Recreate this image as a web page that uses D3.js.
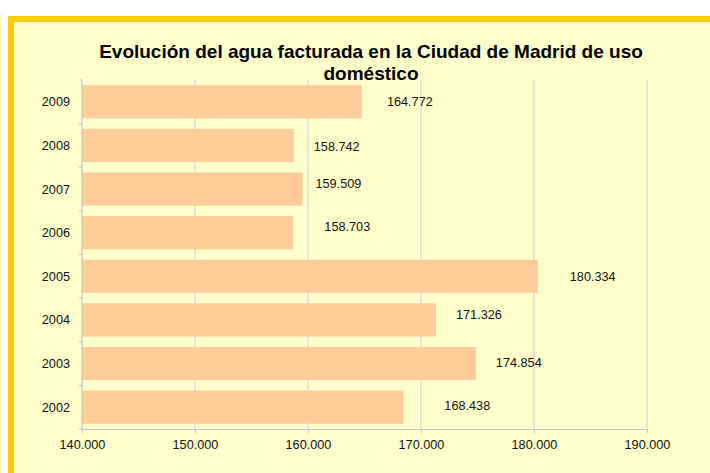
<!DOCTYPE html>
<html>
<head>
<meta charset="utf-8">
<script src="https://cdn.jsdelivr.net/npm/d3@7"></script>
<style>
  body { margin: 0; background: #fff; }
  svg { display: block; font-family: Arial, "Liberation Sans", sans-serif; }
</style>
</head>
<body>
<svg id="chart"></svg>
<script>
// data
const years = ["2009", "2008", "2007", "2006", "2005", "2004", "2003", "2002"];
const volumes = [164772, 158742, 159509, 158703, 180334, 171326, 174854, 168438];
const xTicks = [140000, 150000, 160000, 170000, 180000, 190000];
const titleLines = ["Evolución del agua facturada en la Ciudad de Madrid de uso", "doméstico"];

// labels were nudged by hand in the original
const labelDx = [25, 20, 13, 31, 32, 20, 20, 41];
const labelDy = [0, 1, -6, -6, 0, -5, -1, -2];

const W = 710, H = 473;
const margin = { top: 80, left: 82, right: 63, bottom: 44 };
const fs = 12.7;

const svg = d3.select("#chart").attr("width", W).attr("height", H);

// frame
svg.append("rect").attr("x", 0).attr("y", 14).attr("width", 2).attr("height", H)
    .attr("fill", "#fff6c0");
svg.append("rect").attr("x", 11).attr("y", 19).attr("width", W + 20).attr("height", H + 20)
    .attr("fill", "#ffffcc").attr("stroke", "#ffcc00").attr("stroke-width", 6);

const x = d3.scaleLinear().domain([140000, 190000]).range([margin.left, W - margin.right]);
const y = d3.scaleBand().domain(years).range([margin.top, H - margin.bottom]).paddingInner(0.24).paddingOuter(0.12);

const fmt = d3.format(",.0f");
const esNum = v => fmt(v).replace(/,/g, ".");

// gridlines
svg.append("g").selectAll("line").data(xTicks.slice(1)).join("line")
    .attr("x1", d => x(d)).attr("x2", d => x(d))
    .attr("y1", margin.top).attr("y2", H - margin.bottom)
    .attr("stroke", "#d9d9d9").attr("stroke-width", 1.3);

// bars
svg.append("g").selectAll("rect").data(years).join("rect")
    .attr("x", x(140000))
    .attr("y", d => y(d))
    .attr("width", (d, i) => x(volumes[i]) - x(140000))
    .attr("height", y.bandwidth())
    .attr("fill", "#ffcc99");

// value labels
svg.append("g").selectAll("text").data(years).join("text")
    .attr("x", (d, i) => x(volumes[i]) + labelDx[i])
    .attr("y", (d, i) => y(d) + y.bandwidth() / 2 + labelDy[i])
    .attr("dy", "0.35em")
    .attr("font-size", fs)
    .attr("fill", "#111")
    .text((d, i) => esNum(volumes[i]));

// x axis
const xAxis = svg.append("g")
    .attr("transform", `translate(0, ${H - margin.bottom})`)
    .call(d3.axisBottom(x).tickValues(xTicks).tickFormat(esNum).tickSize(4).tickSizeOuter(0).tickPadding(7));
xAxis.select(".domain").attr("stroke", "#bfbfbf");
xAxis.selectAll(".tick line").attr("stroke", "#bfbfbf");
xAxis.selectAll("text").attr("font-size", fs).attr("fill", "#111").attr("font-family", null);

// y axis (ticks sit between categories)
const yAxis = svg.append("g").attr("transform", `translate(${margin.left}, 0)`);
yAxis.append("line")
    .attr("y1", margin.top).attr("y2", H - margin.bottom)
    .attr("stroke", "#bfbfbf");
const bounds = d3.range(years.length + 1).map(i => margin.top + i * (H - margin.top - margin.bottom) / years.length);
yAxis.selectAll(".tk").data(bounds).join("line")
    .attr("x1", -3).attr("x2", 0)
    .attr("y1", d => d).attr("y2", d => d)
    .attr("stroke", "#bfbfbf");
yAxis.selectAll("text").data(years).join("text")
    .attr("x", -12)
    .attr("y", d => y(d) + y.bandwidth() / 2)
    .attr("dy", "0.35em")
    .attr("text-anchor", "end")
    .attr("font-size", fs)
    .attr("fill", "#111")
    .text(d => d);

// title
svg.append("text")
    .attr("x", 371).attr("y", 58)
    .attr("text-anchor", "middle")
    .attr("font-size", 19).attr("font-weight", "bold")
    .selectAll("tspan").data(titleLines).join("tspan")
    .attr("x", 371).attr("dy", (d, i) => i === 0 ? 0 : 22)
    .text(d => d);
</script>
</body>
</html>
